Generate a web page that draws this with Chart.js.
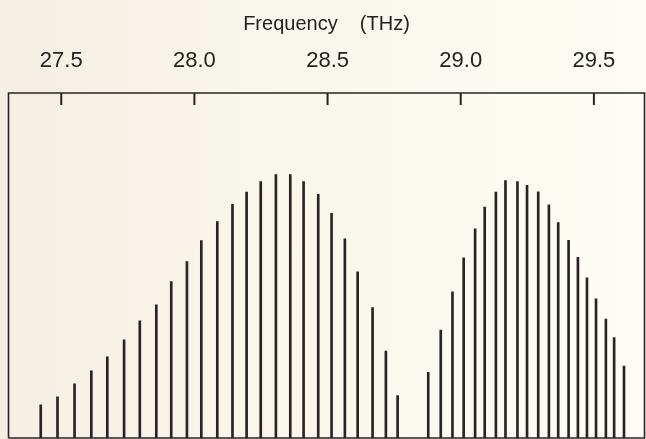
<!DOCTYPE html>
<html>
<head>
<meta charset="utf-8">
<script src="https://cdn.jsdelivr.net/npm/chart.js@4.4.1/dist/chart.umd.min.js"></script>
<style>
  html, body { margin: 0; padding: 0; }
  body { width: 646px; height: 439px; background: linear-gradient(90deg, #f4efe3 0%, #f9f6eb 40%, #fdfdf5 100%); }
  #wrap { position: relative; width: 646px; height: 439px; }
</style>
</head>
<body>
<div id="wrap"><canvas id="spectrum"></canvas></div>
<script>
// line positions (THz) and relative heights
const band1Freq = [27.423, 27.486, 27.550, 27.613, 27.673, 27.736, 27.795, 27.857, 27.913, 27.972,
  28.026, 28.086, 28.143, 28.196, 28.249, 28.306, 28.360, 28.410, 28.465, 28.515,
  28.565, 28.613, 28.669, 28.719, 28.763];
const band1Int = [12.6, 15.6, 20.6, 25.5, 30.8, 37.3, 44.5, 50.6, 59.4, 67.0,
  75.0, 82.2, 88.7, 93.4, 97.4, 100, 100, 97.4, 92.5, 85.3,
  75.6, 63.1, 49.5, 33.0, 16.1];

const band2Freq = [28.878, 28.925, 28.969, 29.011, 29.054, 29.090, 29.132, 29.168, 29.213, 29.249,
  29.291, 29.331, 29.366, 29.405, 29.440, 29.474, 29.508, 29.545, 29.576, 29.613];
const band2Int = [24.9, 41.0, 55.5, 68.4, 79.4, 87.7, 93.4, 97.7, 97.4, 95.9,
  93.5, 88.5, 81.8, 75.1, 68.6, 60.8, 52.8, 45.2, 38.1, 27.3];

const tickValues = [27.5, 28.0, 28.5, 29.0, 29.5];
const freqMin = 27.302, freqMax = 29.690;

const ink = '#2b2323';

function toPoints(xs, ys) {
  return xs.map((x, i) => ({ x: x, y: ys[i] }));
}

// frame + inward tick marks like the printed figure
const framePlugin = {
  id: 'frame',
  afterDatasetsDraw(chart) {
    const { ctx, chartArea: a } = chart;
    const xs = chart.scales.x;
    ctx.save();
    ctx.strokeStyle = ink;
    ctx.lineWidth = 1.6;
    ctx.beginPath();
    ctx.moveTo(a.left, a.bottom);
    ctx.lineTo(a.left, a.top);
    ctx.lineTo(a.right, a.top);
    ctx.lineTo(a.right, a.bottom);
    ctx.lineTo(a.left, a.bottom);
    ctx.stroke();
    ctx.lineWidth = 2;
    xs.ticks.forEach(t => {
      const px = xs.getPixelForValue(t.value);
      ctx.beginPath();
      ctx.moveTo(px, a.top);
      ctx.lineTo(px, a.top + 12);
      ctx.stroke();
    });
    ctx.restore();
  }
};

new Chart(document.getElementById('spectrum'), {
  type: 'bar',
  data: {
    datasets: [
      { label: 'band 1', data: toPoints(band1Freq, band1Int), backgroundColor: ink, barThickness: 2, grouped: false },
      { label: 'band 2', data: toPoints(band2Freq, band2Int), backgroundColor: ink, barThickness: 2, grouped: false }
    ]
  },
  options: {
    responsive: true,
    maintainAspectRatio: false,
    animation: false,
    layout: { padding: { left: 8.5, right: 1.5, top: 0, bottom: 1 } },
    plugins: { legend: { display: false }, tooltip: { enabled: false } },
    scales: {
      x: {
        type: 'linear',
        position: 'top',
        min: freqMin,
        max: freqMax,
        offset: false,
        afterBuildTicks: scale => { scale.ticks = tickValues.map(v => ({ value: v })); },
        grid: { display: false, drawTicks: false },
        border: { display: false },
        ticks: {
          padding: 18.8,
          color: '#222',
          font: { family: 'Liberation Sans', size: 22 },
          maxRotation: 0,
          callback: v => Number(v).toFixed(1)
        },
        title: {
          display: true,
          text: 'Frequency    (THz)',
          color: '#222',
          font: { family: 'Liberation Sans', size: 20 },
          padding: { top: 12, bottom: -7 }
        }
      },
      y: {
        display: false,
        min: 0,
        max: 131
      }
    }
  },
  plugins: [framePlugin]
});
</script>
</body>
</html>
